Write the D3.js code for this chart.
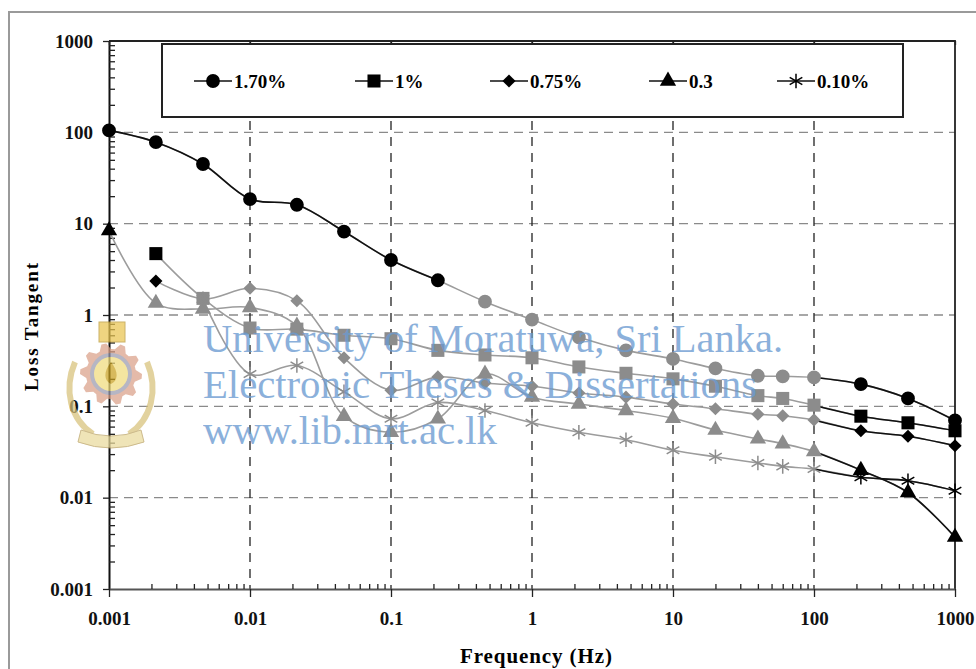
<!DOCTYPE html>
<html>
<head>
<meta charset="utf-8">
<script src="https://cdn.jsdelivr.net/npm/d3@7"></script>
<style>
  body { margin: 0; background: #fff; }
  svg { display: block; }
</style>
</head>
<body>
<svg id="chart"></svg>
<script>
// frequencies (Hz) shared by every series
const freqs = [0.001, 0.00215, 0.00464, 0.01, 0.0215, 0.0464, 0.1, 0.215, 0.464, 1,
               2.15, 4.64, 10, 20, 40, 60, 100, 215, 464, 1000]
const seriesNames = ["1.70%", "1%", "0.75%", "0.3", "0.10%"]
const loss170 = [105, 78, 45, 18.6, 16.1, 8.2, 4.0, 2.4, 1.4, 0.89,
                 0.57, 0.41, 0.33, 0.26, 0.216, 0.213, 0.207, 0.175, 0.122, 0.070]
const loss100 = [null, 4.7, 1.52, 0.72, 0.70, 0.60, 0.55, 0.41, 0.365, 0.34,
                 0.27, 0.23, 0.20, 0.166, 0.131, 0.122, 0.103, 0.078, 0.066, 0.054]
const loss075 = [null, 2.35, 1.5, 1.96, 1.43, 0.34, 0.15, 0.21, 0.18, 0.166,
                 0.14, 0.126, 0.106, 0.094, 0.082, 0.079, 0.071, 0.054, 0.047, 0.037]
const loss030 = [8.4, 1.35, 1.16, 1.21, 0.76, 0.078, 0.052, 0.073, 0.226, 0.126,
                 0.106, 0.090, 0.074, 0.055, 0.044, 0.039, 0.032, 0.020, 0.0114, 0.0037]
const loss010 = [null, null, 1.5, 0.226, 0.28, 0.144, 0.073, 0.11, 0.09, 0.066,
                 0.052, 0.043, 0.033, 0.028, 0.024, 0.022, 0.0206, 0.0167, 0.0153, 0.0119]
const tickValues = [0.001, 0.01, 0.1, 1, 10, 100, 1000]
const tickLabels = ["0.001", "0.01", "0.1", "1", "10", "100", "1000"]

const allSeries = [loss170, loss100, loss075, loss030, loss010]
// points drawn grey lie between these indexes, the rest are black
const greyFrom = [8, 2, 2, 1, 2]
const greyTo = 16

const W = 976, H = 669
const font = "'Liberation Serif', 'Times New Roman', serif"
const svg = d3.select("#chart").attr("width", W).attr("height", H)

// chart area frame
svg.append("rect")
    .attr("x", 9).attr("y", 12).attr("width", 1000).attr("height", 700)
    .attr("fill", "#fff").attr("stroke", "#9a9a9a").attr("stroke-width", 2)

const x = d3.scaleLog().domain([1e-3, 1e3]).range([109, 955])
const y = d3.scaleLog().domain([1e-3, 1e3]).range([589, 41])

// minor tick positions 2..9 in every decade
const minors = []
tickValues.slice(0, -1).forEach(d => d3.range(2, 10).forEach(k => minors.push(k * d)))

// grid
const grid = svg.append("g")
grid.selectAll(".hg").data(tickValues.slice(1, -1)).join("line")
    .attr("x1", 109).attr("x2", 955)
    .attr("y1", d => y(d)).attr("y2", d => y(d))
    .attr("stroke", "#8a8a8a").attr("stroke-width", 1.3).attr("stroke-dasharray", "9,6")
grid.selectAll(".vg").data(tickValues.slice(1, -1)).join("line")
    .attr("x1", d => x(d)).attr("x2", d => x(d))
    .attr("y1", 41).attr("y2", 589)
    .attr("stroke", "#222").attr("stroke-width", 1.3).attr("stroke-dasharray", "9,7")

// plot border top / right
svg.append("path").attr("d", "M109,41H955V589")
    .attr("fill", "none").attr("stroke", "#222").attr("stroke-width", 1.8)

function styleAxis(g) {
    g.selectAll("text").attr("font-family", font).attr("font-weight", "bold")
        .attr("font-size", 19).attr("fill", "#111")
    g.selectAll("line").attr("stroke", "#222").attr("stroke-width", 1.3)
}

// y axis
svg.append("g").attr("transform", "translate(109,0)")
    .call(d3.axisLeft(y).tickValues(tickValues).tickFormat((d, i) => tickLabels[i])
        .tickSizeInner(6).tickSizeOuter(0).tickPadding(10))
    .call(styleAxis)
    .call(g => g.select(".domain").attr("stroke", "#111").attr("stroke-width", 2))
svg.append("g").attr("transform", "translate(109,0)")
    .call(d3.axisLeft(y).tickValues(minors).tickFormat("").tickSize(-6))
    .call(styleAxis)
    .call(g => g.select(".domain").remove())

// x axis
svg.append("g").attr("transform", "translate(0,589)")
    .call(d3.axisBottom(x).tickValues(tickValues).tickFormat((d, i) => tickLabels[i])
        .tickSizeInner(8).tickSizeOuter(0).tickPadding(15))
    .call(styleAxis)
    .call(g => g.select(".domain").attr("stroke", "#555").attr("stroke-width", 2))
svg.append("g").attr("transform", "translate(0,589)")
    .call(d3.axisBottom(x).tickValues(minors).tickFormat("").tickSize(-5))
    .call(styleAxis)
    .call(g => g.select(".domain").remove())
svg.append("g").attr("transform", "translate(0,41)")
    .call(d3.axisTop(x).tickValues(tickValues).tickFormat("").tickSize(-4))
    .call(styleAxis)
    .call(g => g.select(".domain").remove())

// axis titles
svg.append("text").attr("x", 536).attr("y", 663).attr("text-anchor", "middle")
    .attr("font-family", font).attr("font-weight", "bold").attr("font-size", 21)
    .attr("textLength", 152).text("Frequency (Hz)")
svg.append("text").attr("transform", "translate(38,327) rotate(-90)").attr("text-anchor", "middle")
    .attr("font-family", font).attr("font-weight", "bold").attr("font-size", 19)
    .attr("textLength", 128).text("Loss Tangent")

// marker shapes
const diamond = { draw(ctx, size) { const r = Math.sqrt(size) / 1.6
    ctx.moveTo(0, -r); ctx.lineTo(r, 0); ctx.lineTo(0, r); ctx.lineTo(-r, 0); ctx.closePath() } }
const symbols = [
    d3.symbol(d3.symbolCircle, 150),
    d3.symbol(d3.symbolSquare, 170),
    d3.symbol(diamond, 110),
    d3.symbol(d3.symbolTriangle, 115),
    d3.symbol(d3.symbolAsterisk, 150)
]
const isStroke = [false, false, false, false, true]

const line = d3.line()
    .x(d => x(d.f))
    .y(d => y(d.v))
    .curve(d3.curveCatmullRom.alpha(0.5))

const greyLine = "#9c9c9c", greyMark = "#8c8c8c"

const points = allSeries.map(vals =>
    freqs.map((f, i) => ({ f, v: vals[i], i })).filter(d => d.v != null))

const plot = svg.append("g")
// grey lines underneath
points.forEach(pts => {
    plot.append("path").datum(pts).attr("d", line)
        .attr("fill", "none").attr("stroke", greyLine).attr("stroke-width", 1.6)
})
// black runs
points.forEach((pts, si) => {
    const left = pts.filter(d => d.i < greyFrom[si])
    const right = pts.filter(d => d.i >= greyTo)
    ;[left, right].forEach(run => {
        if (run.length < 2) return
        plot.append("path").datum(run).attr("d", line)
            .attr("fill", "none").attr("stroke", "#111").attr("stroke-width", 1.6)
    })
})
// markers
points.forEach((pts, si) => {
    plot.selectAll(null).data(pts).join("path")
        .attr("transform", d => `translate(${x(d.f)},${y(d.v)})`)
        .attr("d", symbols[si])
        .each(function (d) {
            const c = (d.i < greyFrom[si] || d.i > greyTo) ? "#000" : greyMark
            const m = d3.select(this)
            if (isStroke[si]) m.attr("fill", "none").attr("stroke", c).attr("stroke-width", 1.5)
            else m.attr("fill", c)
        })
})

// legend
const legendX = [194, 355, 490, 649, 777]
svg.append("rect").attr("x", 162).attr("y", 44).attr("width", 741).attr("height", 73)
    .attr("fill", "#fff").attr("stroke", "#222").attr("stroke-width", 2)
const leg = svg.selectAll(".leg").data(seriesNames).join("g")
    .attr("transform", (d, i) => `translate(${legendX[i]},81)`)
leg.append("line").attr("x1", 0).attr("x2", 38)
    .attr("stroke", "#111").attr("stroke-width", 1.6)
leg.append("path").attr("transform", "translate(19,0)")
    .attr("d", (d, i) => symbols[i]())
    .attr("fill", (d, i) => isStroke[i] ? "none" : "#000")
    .attr("stroke", (d, i) => isStroke[i] ? "#000" : "none").attr("stroke-width", 1.5)
leg.append("text").attr("x", 40).attr("dy", "0.35em")
    .attr("font-family", font).attr("font-weight", "bold").attr("font-size", 19)
    .text(d => d)

// watermark crest
const crest = svg.append("g").attr("transform", "translate(111,374)").attr("opacity", 0.72)
crest.append("path")
    .attr("d", "M-36,-12 C-48,16 -40,46 -18,60 M36,-12 C48,16 40,46 18,60")
    .attr("fill", "none").attr("stroke", "#d8c27a").attr("stroke-width", 6)
crest.append("path").attr("d", "M-30,56 Q0,68 30,56 L33,68 Q0,80 -33,68 Z")
    .attr("fill", "#eadb9c").attr("stroke", "#b9a060")
const teeth = d3.range(40).map(k => {
    const a = k * Math.PI / 20, r = (Math.floor(k / 2) % 2 ? 25 : 31)
    return [r * Math.cos(a), r * Math.sin(a)]
})
crest.append("path").attr("d", d3.line()(teeth) + "Z").attr("fill", "#dba088")
crest.append("circle").attr("r", 21).attr("fill", "#9a9aae")
crest.append("circle").attr("r", 17).attr("fill", "#f1dc7c")
crest.append("path").attr("d", "M0,-12 C8,-2 7,7 0,10 C-7,7 -8,-2 0,-12Z").attr("fill", "#c8a020")
crest.append("rect").attr("x", -12).attr("y", -52).attr("width", 26).attr("height", 20)
    .attr("fill", "#e9c450").attr("stroke", "#b9962e")

// watermark text
const wm = ["University of Moratuwa, Sri Lanka.", "Electronic Theses & Dissertations", "www.lib.mrt.ac.lk"]
const wmWidth = [580, 554, 294]
svg.selectAll(".wm").data(wm).join("text")
    .attr("x", 203).attr("y", (d, i) => 352 + i * 46)
    .attr("font-family", font).attr("font-size", 40)
    .attr("fill", "#6b9bd1").attr("opacity", 0.78)
    .attr("textLength", (d, i) => wmWidth[i]).attr("lengthAdjust", "spacingAndGlyphs")
    .text(d => d)
</script>
</body>
</html>
